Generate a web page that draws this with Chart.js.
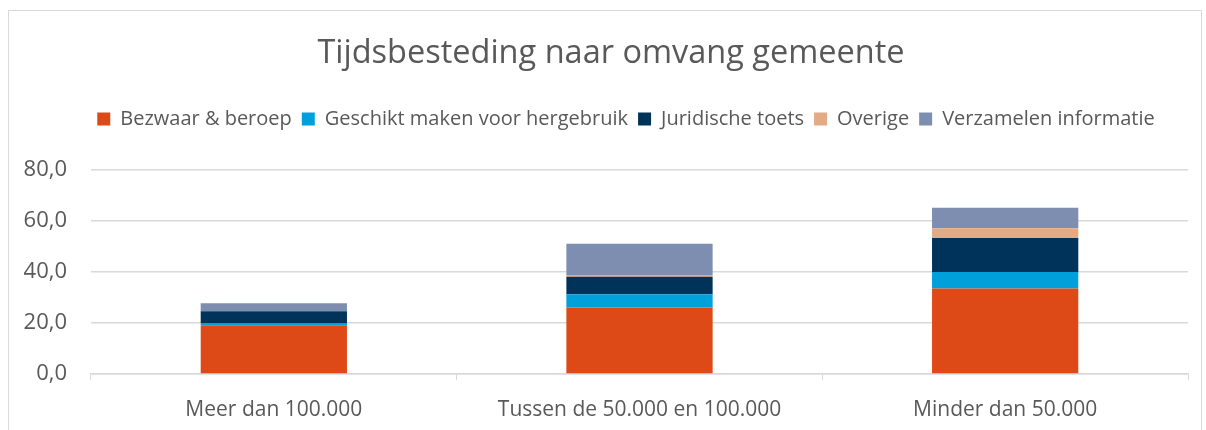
<!DOCTYPE html>
<html>
<head>
<meta charset="utf-8">
<script src="https://cdn.jsdelivr.net/npm/chart.js@4"></script>
<style>
  html, body { margin: 0; padding: 0; background: #fff; overflow: hidden; }
  #wrap { position: relative; width: 1206px; height: 430px; }
  #frame { position: absolute; left: 8px; top: 10px; width: 1192px; height: 440px;
           border: 1.5px solid #d9d9d9; pointer-events: none; }
</style>
</head>
<body>
<div id="wrap">
  <canvas id="chart" width="1206" height="430"></canvas>
  <div id="frame"></div>
</div>
<script>
var categories = ['Meer dan 100.000', 'Tussen de 50.000 en 100.000', 'Minder dan 50.000'];
var bezwaarBeroep = [19.1, 26.1, 33.5];
var geschiktMaken = [0.9, 5.2, 6.5];
var juridischeToets = [4.6, 6.8, 13.3];
var overige = [0.0, 0.7, 3.9];
var verzamelenInformatie = [3.1, 12.3, 8.0];
var yTicks = [0, 20, 40, 60, 80];

var textColor = '#595959';
var gridColor = '#d9d9d9';
Chart.defaults.font.family = '"Open Sans", sans-serif';
Chart.defaults.color = textColor;

// extra room under the legend, and title/legend centred like the original
var legendGap = {
    id: 'legendGap',
    beforeInit: function (chart) {
        var fit = chart.legend.fit;
        chart.legend.fit = function () {
            fit.bind(chart.legend)();
            this.height += 31;
        };
    },
    afterLayout: function (chart) {
        chart.titleBlock.left += 34;
        chart.legend.left += 64;
    }
};

var ctx = document.getElementById('chart').getContext('2d');

var chart = new Chart(ctx, {
    type: 'bar',
    data: {
        labels: categories,
        datasets: [
            { label: 'Bezwaar & beroep', data: bezwaarBeroep, backgroundColor: '#dd4a18' },
            { label: 'Geschikt maken voor hergebruik', data: geschiktMaken, backgroundColor: '#00a0da' },
            { label: 'Juridische toets', data: juridischeToets, backgroundColor: '#00335a' },
            { label: 'Overige', data: overige, backgroundColor: '#e3aa84' },
            { label: 'Verzamelen informatie', data: verzamelenInformatie, backgroundColor: '#7e8eb1' }
        ]
    },
    plugins: [legendGap],
    options: {
        responsive: false,
        animation: false,
        layout: { padding: { left: 0, right: 18, top: 0, bottom: 0 } },
        datasets: { bar: { categoryPercentage: 0.4, barPercentage: 1.0 } },
        plugins: {
            title: {
                display: true,
                text: 'Tijdsbesteding naar omvang gemeente',
                font: { size: 32.5, weight: 'normal' },
                color: textColor,
                padding: { top: 34, bottom: 26 }
            },
            legend: {
                position: 'top',
                labels: {
                    boxWidth: 13, boxHeight: 13, padding: 10,
                    font: { size: 20 }, color: textColor
                }
            },
            tooltip: { enabled: false }
        },
        scales: {
            x: {
                stacked: true,
                afterFit: function (axis) { axis.height = 56; },
                grid: { drawOnChartArea: false, drawTicks: true, tickLength: 6, color: gridColor },
                border: { color: gridColor, width: 1.5 },
                ticks: { font: { size: 21 }, color: textColor, padding: 17 }
            },
            y: {
                stacked: true,
                min: 0, max: 80,
                afterBuildTicks: function (axis) { axis.ticks = yTicks.map(function (v) { return { value: v }; }); },
                afterFit: function (axis) { axis.width = 91; },
                grid: { color: gridColor, lineWidth: 1.5, drawTicks: false },
                border: { display: false },
                ticks: {
                    font: { size: 22 }, color: textColor, padding: 24,
                    callback: function (v) { return v.toFixed(1).replace('.', ','); }
                }
            }
        }
    }
});
</script>
</body>
</html>
